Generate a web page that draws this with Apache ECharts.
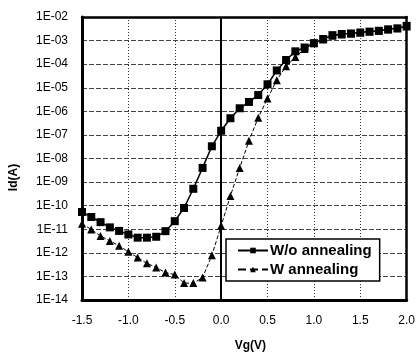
<!DOCTYPE html>
<html>
<head>
<meta charset="utf-8">
<script src="https://cdn.jsdelivr.net/npm/echarts@6/dist/echarts.min.js"></script>
<style>html,body{margin:0;padding:0;background:#fff;}#c{width:418px;height:357px;}</style>
</head>
<body>
<div id="c"></div>
<script>
var vg = [-1.5,-1.4,-1.3,-1.2,-1.1,-1.0,-0.9,-0.8,-0.7,-0.6,-0.5,-0.4,-0.3,-0.2,-0.1,0.0,0.1,0.2,0.3,0.4,0.5,0.6,0.7,0.8,0.9,1.0,1.1,1.2,1.3,1.4,1.5,1.6,1.7,1.8,1.9,2.0];
var idWithout = [5.4e-11,3.3e-11,2.0e-11,1.2e-11,8.5e-12,6.0e-12,4.4e-12,4.4e-12,4.8e-12,8.3e-12,2.2e-11,8.0e-11,5.2e-10,4.0e-9,3.3e-8,1.5e-7,5.1e-7,1.35e-6,2.5e-6,4.9e-6,1.4e-5,5.4e-5,1.5e-4,3.5e-4,5.1e-4,7.8e-4,1.17e-3,1.7e-3,1.9e-3,2.0e-3,2.2e-3,2.4e-3,2.6e-3,3.0e-3,3.3e-3,4.2e-3];
var idWith = [1.7e-11,9.8e-12,5.2e-12,3.2e-12,2.0e-12,1.1e-12,6.3e-13,3.6e-13,2.4e-13,1.45e-13,1.2e-13,5.2e-14,5.2e-14,8.9e-14,7.9e-13,1.4e-11,2.6e-10,4.0e-9,5.6e-8,5.4e-7,3.5e-6,2.1e-5,8.1e-5,2.0e-4,4.4e-4,7.8e-4,1.1e-3,1.6e-3,1.8e-3,2.0e-3,2.2e-3,2.4e-3,2.6e-3,2.95e-3,3.3e-3,4.0e-3];
var seriesNames = ['W/o annealing','W annealing'];
var yExpMin = -14, yExpMax = -2;
var xTitle = 'Vg(V)';
var yTitle = 'Id(A)';

// plotted on a decade (log10) scale
function pairs(xs, ys){ return xs.map(function(x,i){ return [x, Math.log10(ys[i])]; }); }
function fmtE(e){
  e = Math.round(e);
  var s = Math.abs(e) < 10 ? '0' + Math.abs(e) : '' + Math.abs(e);
  return '1E' + (e < 0 ? '-' : '+') + s;
}
var font = 'Liberation Sans, Arial, sans-serif';

var chart = echarts.init(document.getElementById('c'), null, {renderer:'canvas'});
chart.setOption({
  animation: false,
  backgroundColor: '#fff',
  grid: {left:78, right:8, top:17, bottom:55},
  xAxis: [{
    type:'value', min:-1.5, max:2.0, interval:0.5,
    name: xTitle, nameLocation:'middle', nameGap:40,
    nameTextStyle:{fontFamily:font, fontSize:12, fontWeight:'bold', color:'#000', padding:[0,0,0,12]},
    axisLine:{onZero:false, lineStyle:{color:'#000', width:3}},
    axisTick:{show:false},
    axisLabel:{fontFamily:font, fontSize:12, color:'#000', margin:15, formatter:function(v){return v.toFixed(1);}},
    splitLine:{show:true, lineStyle:{color:'#333', type:[1,2], width:1}}
  },{
    type:'value', min:-1.5, max:2.0, interval:0.5, position:'top',
    axisLine:{onZero:false, lineStyle:{color:'#000', width:2.5}},
    axisTick:{show:false}, axisLabel:{show:false}, splitLine:{show:false}
  }],
  yAxis: [{
    type:'value', min:yExpMin, max:yExpMax, interval:1,
    name: yTitle, nameLocation:'middle', nameGap:62, nameRotate:90,
    nameTextStyle:{fontFamily:font, fontSize:12, fontWeight:'bold', color:'#000', padding:[0,38,0,0]},
    axisLine:{onZero:false, lineStyle:{color:'#000', width:3}},
    axisTick:{show:false},
    axisLabel:{fontFamily:font, fontSize:12, color:'#000', margin:14, formatter:fmtE},
    splitLine:{show:true, lineStyle:{color:'#444', type:[5,2], width:1}}
  },{
    type:'value', min:yExpMin, max:yExpMax, interval:1, position:'right',
    axisLine:{show:true, onZero:false, lineStyle:{color:'#000', width:2.5}},
    axisTick:{show:false}, axisLabel:{show:false}, splitLine:{show:false}
  }],
  legend: {
    left:226, top:239, orient:'vertical',
    backgroundColor:'#fff', borderColor:'#000', borderWidth:1.5,
    padding:[4,8,4,11], itemGap:4, itemWidth:30, itemHeight:7,
    textStyle:{fontFamily:font, fontSize:15, fontWeight:'bold', color:'#000', padding:[0,0,0,-3]},
    data: seriesNames
  },
  series: [
    {
      name: seriesNames[0], type:'line', data: pairs(vg, idWithout),
      symbol:'rect', symbolSize:8,
      lineStyle:{color:'#000', width:1.5},
      itemStyle:{color:'#000'},
      z:3,
      markLine:{silent:true, symbol:'none', label:{show:false},
        lineStyle:{color:'#000', type:'solid', width:2},
        data:[{xAxis:0}]}
    },
    {
      name: seriesNames[1], type:'line', data: pairs(vg, idWith),
      symbol:'triangle', symbolSize:8,
      lineStyle:{color:'#000', width:1, type:'dashed'},
      itemStyle:{color:'#000'},
      z:3
    }
  ]
});
</script>
</body>
</html>
